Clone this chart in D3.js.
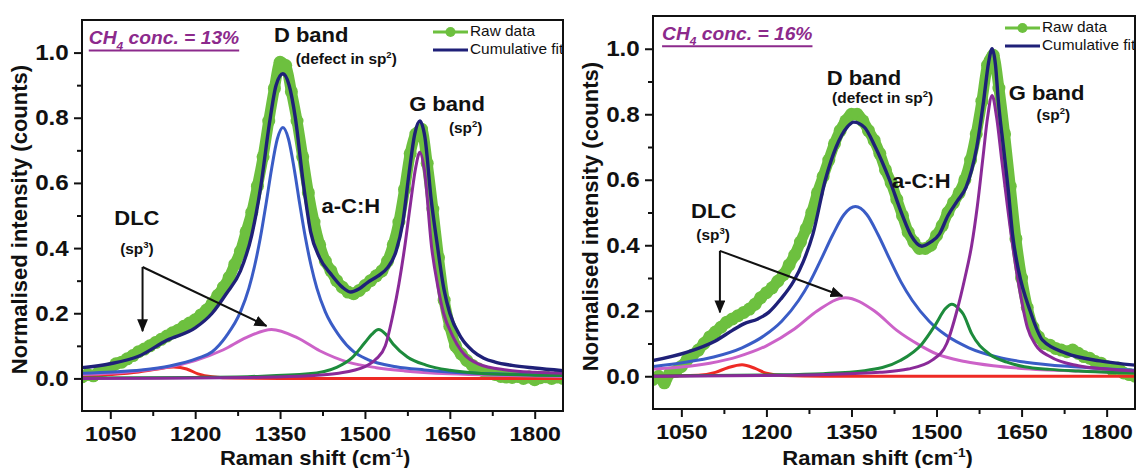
<!DOCTYPE html>
<html>
<head>
<meta charset="utf-8">
<script src="https://cdn.jsdelivr.net/npm/d3@7"></script>
<style>
  body { margin: 0; background: #fff; }
  text { font-family: "Liberation Sans", Arial, sans-serif; }
</style>
</head>
<body>
<div id="chart"></div>
<script>
'use strict';

var shiftTicks = [1050, 1200, 1350, 1500, 1650, 1800];
var shiftMinor = [1125, 1275, 1425, 1575, 1725];
var intensityTicks = [0.0, 0.2, 0.4, 0.6, 0.8, 1.0];
var intensityMinor = [0.1, 0.3, 0.5, 0.7, 0.9];
var rawShift = d3.range(1000, 1851, 10);

// CH4 13 %
var raw13 = [
    0.005, 0.012, 0.008, 0.02, 0.025, 0.03, 0.045, 0.05, 0.06, 0.07,
    0.082, 0.09, 0.1, 0.11, 0.12, 0.13, 0.14, 0.148, 0.16, 0.17,
    0.18, 0.195, 0.21, 0.23, 0.255, 0.28, 0.31, 0.35, 0.39, 0.45,
    0.51, 0.59, 0.68, 0.79, 0.89, 0.97, 0.96, 0.88, 0.79, 0.68,
    0.57, 0.48, 0.41, 0.36, 0.33, 0.3, 0.28, 0.265, 0.26, 0.27,
    0.285, 0.3, 0.315, 0.33, 0.36, 0.41, 0.48, 0.58, 0.69, 0.75,
    0.765, 0.66, 0.52, 0.37, 0.24, 0.16, 0.1, 0.075, 0.055, 0.04,
    0.03, 0.022, 0.016, 0.012, 0.006, 0.004, 0.003, 0.006, 0.0, 0.004,
    -0.004, 0.002, 0.005, 0.0, 0.004, 0.0
];
var fit13 = [[1000,0.033],[1050,0.045],[1100,0.068],[1150,0.117],[1200,0.155],[1230,0.2],[1255,0.26],[1280,0.33],
    [1300,0.44],[1316,0.59],[1331,0.78],[1343,0.9],[1355,0.935],[1366,0.9],[1377,0.8],[1391,0.6],[1404,0.45],
    [1420,0.37],[1440,0.32],[1460,0.28],[1475,0.265],[1490,0.275],[1505,0.295],[1522,0.313],[1540,0.34],
    [1555,0.39],[1567,0.48],[1578,0.63],[1588,0.75],[1597,0.79],[1606,0.74],[1617,0.55],[1627,0.42],[1640,0.27],
    [1650,0.2],[1670,0.125],[1690,0.085],[1710,0.062],[1730,0.05],[1760,0.04],[1800,0.032],[1850,0.024]];
var dlcLow13 = [[1000,0.007],[1050,0.012],[1100,0.02],[1130,0.028],[1162,0.035],[1185,0.029],[1205,0.014],
    [1230,0.005],[1270,0.001],[1350,0],[1850,0]];
var dlcHigh13 = [[1000,0.012],[1050,0.016],[1100,0.023],[1150,0.034],[1200,0.055],[1250,0.088],[1290,0.125],
    [1335,0.15],[1380,0.125],[1420,0.085],[1470,0.05],[1520,0.033],[1570,0.023],[1650,0.014],[1750,0.009],[1850,0.006]];
var dBand13 = [[1000,0.016],[1055,0.02],[1105,0.026],[1155,0.038],[1205,0.062],[1230,0.082],[1255,0.13],[1280,0.204],
    [1295,0.277],[1305,0.345],[1315,0.43],[1325,0.533],[1335,0.643],[1345,0.734],[1355,0.77],[1365,0.734],
    [1375,0.643],[1385,0.533],[1395,0.43],[1405,0.345],[1415,0.277],[1430,0.204],[1455,0.13],[1480,0.082],
    [1505,0.058],[1555,0.036],[1605,0.026],[1655,0.019],[1750,0.013],[1850,0.009]];
var acH13 = [[1000,0.001],[1200,0.003],[1300,0.006],[1400,0.014],[1450,0.034],[1477,0.063],[1500,0.11],[1512,0.135],
    [1524,0.15],[1537,0.135],[1550,0.105],[1575,0.066],[1608,0.041],[1650,0.025],[1700,0.016],[1800,0.01],[1850,0.009]];
var gBand13 = [[1000,0],[1200,0.001],[1300,0.003],[1400,0.008],[1450,0.015],[1500,0.036],[1520,0.06],[1536,0.1],
    [1550,0.2],[1560,0.29],[1570,0.4],[1580,0.53],[1590,0.65],[1597,0.694],[1605,0.64],[1618,0.4],[1628,0.29],
    [1639,0.2],[1655,0.13],[1670,0.085],[1700,0.045],[1750,0.026],[1800,0.019],[1850,0.016]];

// CH4 16 %
var raw16 = [
    -0.01, 0.0, -0.02, 0.01, 0.015, 0.03, 0.05, 0.065, 0.08, 0.1,
    0.12, 0.135, 0.15, 0.165, 0.175, 0.185, 0.195, 0.205, 0.22, 0.24,
    0.255, 0.27, 0.29, 0.31, 0.34, 0.37, 0.41, 0.45, 0.5, 0.56,
    0.61, 0.66, 0.71, 0.75, 0.78, 0.8, 0.8, 0.78, 0.75, 0.72,
    0.68, 0.63, 0.59, 0.54, 0.49, 0.44, 0.41, 0.39, 0.39, 0.4,
    0.43, 0.46, 0.5, 0.53, 0.56, 0.6, 0.66, 0.74, 0.84, 0.95,
    0.98, 0.88, 0.74, 0.58, 0.42, 0.3, 0.21, 0.15, 0.12, 0.1,
    0.095, 0.085, 0.08, 0.075, 0.08, 0.07, 0.06, 0.055, 0.045, 0.04,
    0.03, 0.02, 0.025, 0.01, 0.005, 0.0
];
var fit16 = [[1000,0.048],[1059,0.073],[1110,0.108],[1140,0.14],[1160,0.16],[1185,0.175],[1204,0.195],[1225,0.235],
    [1248,0.29],[1265,0.35],[1282,0.434],[1304,0.6],[1323,0.7],[1342,0.76],[1354,0.776],[1373,0.76],[1392,0.7],
    [1417,0.6],[1439,0.495],[1455,0.43],[1474,0.397],[1490,0.41],[1505,0.434],[1520,0.49],[1537,0.536],[1552,0.577],
    [1562,0.63],[1571,0.7],[1583,0.84],[1592,0.96],[1598,1.0],[1604,0.95],[1609,0.84],[1618,0.7],[1627,0.56],
    [1634,0.434],[1645,0.32],[1665,0.2],[1687,0.11],[1729,0.07],[1788,0.047],[1850,0.034]];
var dlcLow16 = [[1000,0],[1080,0.003],[1110,0.012],[1132,0.026],[1157,0.035],[1180,0.024],[1200,0.009],
    [1230,0.002],[1300,0],[1850,0]];
var dlcHigh16 = [[1000,0.022],[1050,0.028],[1100,0.04],[1150,0.06],[1200,0.093],[1250,0.145],[1290,0.2],[1339,0.24],
    [1390,0.2],[1430,0.14],[1470,0.095],[1500,0.068],[1550,0.045],[1600,0.032],[1650,0.024],[1750,0.016],[1850,0.012]];
var dBand16 = [[1000,0.03],[1057,0.043],[1107,0.059],[1157,0.087],[1197,0.125],[1227,0.168],[1257,0.232],[1277,0.289],
    [1297,0.359],[1317,0.432],[1337,0.494],[1357,0.518],[1377,0.494],[1397,0.432],[1417,0.359],[1437,0.289],
    [1457,0.232],[1487,0.168],[1517,0.125],[1557,0.087],[1607,0.059],[1657,0.043],[1750,0.028],[1850,0.018]];
var acH16 = [[1000,0.001],[1200,0.004],[1300,0.008],[1373,0.017],[1436,0.048],[1474,0.098],[1499,0.16],[1515,0.205],
    [1527,0.22],[1540,0.205],[1547,0.19],[1562,0.13],[1593,0.068],[1624,0.043],[1655,0.029],[1700,0.021],
    [1750,0.016],[1800,0.012],[1850,0.01]];
var gBand16 = [[1000,0],[1200,0.002],[1300,0.005],[1400,0.012],[1450,0.022],[1493,0.05],[1518,0.1],[1536,0.2],
    [1550,0.3],[1562,0.4],[1572,0.52],[1582,0.67],[1590,0.79],[1598,0.857],[1606,0.79],[1615,0.66],[1625,0.52],
    [1635,0.39],[1648,0.25],[1660,0.15],[1675,0.095],[1700,0.06],[1750,0.032],[1800,0.022],[1850,0.016]];

var colors = { raw: '#6dc03f', fit: '#1f2078', dlcLow: '#ee2a24', dlcHigh: '#cc62c8', dBand: '#3a5cc6',
               acH: '#1d8b3c', gBand: '#8a2a98', title: '#8c2a8c', ink: '#111' };
var stretchX = 1.1;

var panels = [
    { conc: '13', box: { left: 82, right: 563, top: 20, bottom: 411 },
      raw: raw13, fit: fit13, dlcLow: dlcLow13, dlcHigh: dlcHigh13, dBand: dBand13, acH: acH13, gBand: gBand13,
      notes: { title: [1012, 1.025], dBand: [1405, 1.034], defect: [1467, 0.966], gBand: [1645, 0.822],
               sp2: [1678, 0.754], acH: [1475, 0.508], dlc: [1097, 0.471], sp3: [1097, 0.382],
               arrowFrom: [1107, 0.342], arrowDown: [1107, 0.145], arrowSide: [1326, 0.161], xTitle: 1412 } },
    { conc: '16', box: { left: 653, right: 1135, top: 16, bottom: 409 },
      raw: raw16, fit: fit16, dlcLow: dlcLow16, dlcHigh: dlcHigh16, dBand: dBand16, acH: acH16, gBand: gBand16,
      notes: { title: [1016, 1.026], dBand: [1372, 0.889], defect: [1405, 0.834], gBand: [1694, 0.843],
               sp2: [1706, 0.782], acH: [1473, 0.574], dlc: [1107, 0.482], sp3: [1106, 0.415],
               arrowFrom: [1118, 0.383], arrowDown: [1118, 0.195], arrowSide: [1334, 0.245], xTitle: 1396 } }
];

var svg = d3.select('#chart')
    .append('svg')
    .attr('width', 1137)
    .attr('height', 468);

var defs = svg.append('defs');
defs.append('marker')
    .attr('id', 'head')
    .attr('viewBox', '0 0 12 10')
    .attr('refX', 11).attr('refY', 5)
    .attr('markerWidth', 13).attr('markerHeight', 11)
    .attr('markerUnits', 'userSpaceOnUse')
    .attr('orient', 'auto')
    .append('path')
    .attr('d', 'M0,0 L12,5 L0,10 Z')
    .attr('fill', colors.ink);

function richText(g, x, y, parts, size, opts) {
    opts = opts || {};
    var holder = g.append('g')
        .attr('transform', 'translate(' + x + ',' + y + ') scale(' + stretchX + ',1)');
    var t = holder.append('text')
        .attr('font-size', size)
        .attr('font-weight', opts.weight || 'bold')
        .attr('font-style', opts.italic ? 'italic' : null)
        .attr('text-anchor', opts.anchor || 'start')
        .attr('fill', opts.fill || colors.ink);
    var shift = 0;
    parts.forEach(function (p) {
        var off = p[1] === 'sup' ? -0.42 * size : (p[1] === 'sub' ? 0.3 * size : 0);
        t.append('tspan')
            .attr('dy', off - shift)
            .attr('font-size', p[1] ? size * 0.62 : size)
            .text(p[0]);
        shift = off;
    });
    if (opts.underline) {
        var bb = t.node().getBBox();
        holder.append('line')
            .attr('x1', bb.x).attr('x2', bb.x + bb.width)
            .attr('y1', 6).attr('y2', 6)
            .attr('stroke', opts.fill).attr('stroke-width', 2);
    }
    return holder;
}

function drawPanel(p, idx) {
    var b = p.box;
    var x = d3.scaleLinear().domain([1000, 1850]).range([b.left, b.right]);
    var y = d3.scaleLinear().domain([-0.1, 1.1]).range([b.bottom, b.top]);
    var g = svg.append('g');

    defs.append('clipPath').attr('id', 'clip' + idx)
        .append('rect')
        .attr('x', b.left).attr('y', b.top)
        .attr('width', b.right - b.left).attr('height', b.bottom - b.top);

    var plot = g.append('g').attr('clip-path', 'url(#clip' + idx + ')');

    var line = d3.line()
        .x(function (d) { return x(d[0]); })
        .y(function (d) { return y(d[1]); })
        .curve(d3.curveMonotoneX);

    var rawPoints = rawShift.map(function (s, i) { return [s, p.raw[i]]; });

    // raw data: dense symbols in the original, drawn as a thick band with dots
    plot.append('path')
        .attr('d', line(rawPoints))
        .attr('fill', 'none')
        .attr('stroke', colors.raw)
        .attr('stroke-width', 11)
        .attr('stroke-linejoin', 'round')
        .attr('stroke-linecap', 'round');

    plot.selectAll('.raw')
        .data(rawPoints)
        .enter()
        .append('circle')
        .attr('class', 'raw')
        .attr('cx', function (d) { return x(d[0]); })
        .attr('cy', function (d) { return y(d[1]); })
        .attr('r', 6.5)
        .style('fill', colors.raw);

    ['dlcLow', 'dlcHigh', 'dBand', 'acH', 'gBand', 'fit'].forEach(function (key) {
        plot.append('path')
            .attr('d', line(p[key]))
            .attr('fill', 'none')
            .attr('stroke', colors[key])
            .attr('stroke-width', key === 'fit' ? 3.4 : 3)
            .attr('stroke-linejoin', 'round');
    });

    // axes
    function styleAxis(a, size) {
        a.select('.domain').remove();
        a.selectAll('.tick line').attr('stroke', colors.ink).attr('stroke-width', 2);
        a.selectAll('.tick text')
            .attr('font-size', size)
            .attr('font-weight', 'bold')
            .attr('fill', colors.ink)
            .attr('font-family', '"Liberation Sans", Arial, sans-serif')
            .attr('transform', 'scale(' + stretchX + ',1)');
    }

    g.append('g')
        .attr('transform', 'translate(0,' + b.bottom + ')')
        .call(d3.axisBottom(x).tickValues(shiftTicks).tickSize(8).tickPadding(7).tickFormat(d3.format('d')))
        .call(styleAxis, 21);
    g.append('g')
        .attr('transform', 'translate(0,' + b.bottom + ')')
        .call(d3.axisBottom(x).tickValues(shiftMinor).tickSize(5).tickFormat(''))
        .call(styleAxis, 21);
    g.append('g')
        .attr('transform', 'translate(' + b.left + ',0)')
        .call(d3.axisLeft(y).tickValues(intensityTicks).tickSize(8).tickPadding(4).tickFormat(d3.format('.1f')))
        .call(styleAxis, 22);
    g.append('g')
        .attr('transform', 'translate(' + b.left + ',0)')
        .call(d3.axisLeft(y).tickValues(intensityMinor).tickSize(5).tickFormat(''))
        .call(styleAxis, 22);

    g.append('rect')
        .attr('x', b.left).attr('y', b.top)
        .attr('width', b.right - b.left).attr('height', b.bottom - b.top)
        .attr('fill', 'none')
        .attr('stroke', colors.ink)
        .attr('stroke-width', 2);

    var n = p.notes;

    // axis titles
    richText(g, x(n.xTitle), 465, [['Raman shift (cm'], ['-1', 'sup'], [')']], 20, { anchor: 'middle' });
    g.append('text')
        .attr('transform', 'translate(' + (b.left - 55) + ',' + ((b.top + b.bottom) / 2 + 4) + ') rotate(-90)')
        .attr('text-anchor', 'middle')
        .attr('font-size', 22)
        .attr('font-weight', 'bold')
        .attr('fill', colors.ink)
        .text('Normalised intensity (counts)');

    // legend
    var lx = b.right - 130;
    g.append('line').attr('x1', lx).attr('x2', lx + 35).attr('y1', b.top + 12).attr('y2', b.top + 12)
        .attr('stroke', colors.raw).attr('stroke-width', 3);
    g.append('circle').attr('cx', lx + 17.5).attr('cy', b.top + 12).attr('r', 5).style('fill', colors.raw);
    g.append('line').attr('x1', lx).attr('x2', lx + 35).attr('y1', b.top + 30).attr('y2', b.top + 30)
        .attr('stroke', colors.fit).attr('stroke-width', 3);
    richText(g, lx + 37, b.top + 16, [['Raw data']], 14, { weight: 'normal' });
    richText(g, lx + 37, b.top + 34, [['Cumulative fit']], 14, { weight: 'normal' });

    // annotations
    function at(pt) { return [x(pt[0]), y(pt[1])]; }
    var q;
    q = at(n.title);
    richText(g, q[0], q[1], [['CH'], ['4', 'sub'], [' conc. = ' + p.conc + '%']], 17.5,
        { italic: true, fill: colors.title, underline: true });
    q = at(n.dBand);
    richText(g, q[0], q[1], [['D band']], 20, { anchor: 'middle' });
    q = at(n.defect);
    richText(g, q[0], q[1], [['(defect in sp'], ['2', 'sup'], [')']], 14, { anchor: 'middle' });
    q = at(n.gBand);
    richText(g, q[0], q[1], [['G band']], 20, { anchor: 'middle' });
    q = at(n.sp2);
    richText(g, q[0], q[1], [['(sp'], ['2', 'sup'], [')']], 14, { anchor: 'middle' });
    q = at(n.acH);
    richText(g, q[0], q[1], [['a-C:H']], 20, { anchor: 'middle' });
    q = at(n.dlc);
    richText(g, q[0], q[1], [['DLC']], 20, { anchor: 'middle' });
    q = at(n.sp3);
    richText(g, q[0], q[1], [['(sp'], ['3', 'sup'], [')']], 14, { anchor: 'middle' });

    var from = at(n.arrowFrom);
    [n.arrowDown, n.arrowSide].forEach(function (end) {
        var e = at(end);
        g.append('line')
            .attr('x1', from[0]).attr('y1', from[1])
            .attr('x2', e[0]).attr('y2', e[1])
            .attr('stroke', colors.ink)
            .attr('stroke-width', 2)
            .attr('marker-end', 'url(#head)');
    });
}

panels.forEach(drawPanel);
</script>
</body>
</html>
